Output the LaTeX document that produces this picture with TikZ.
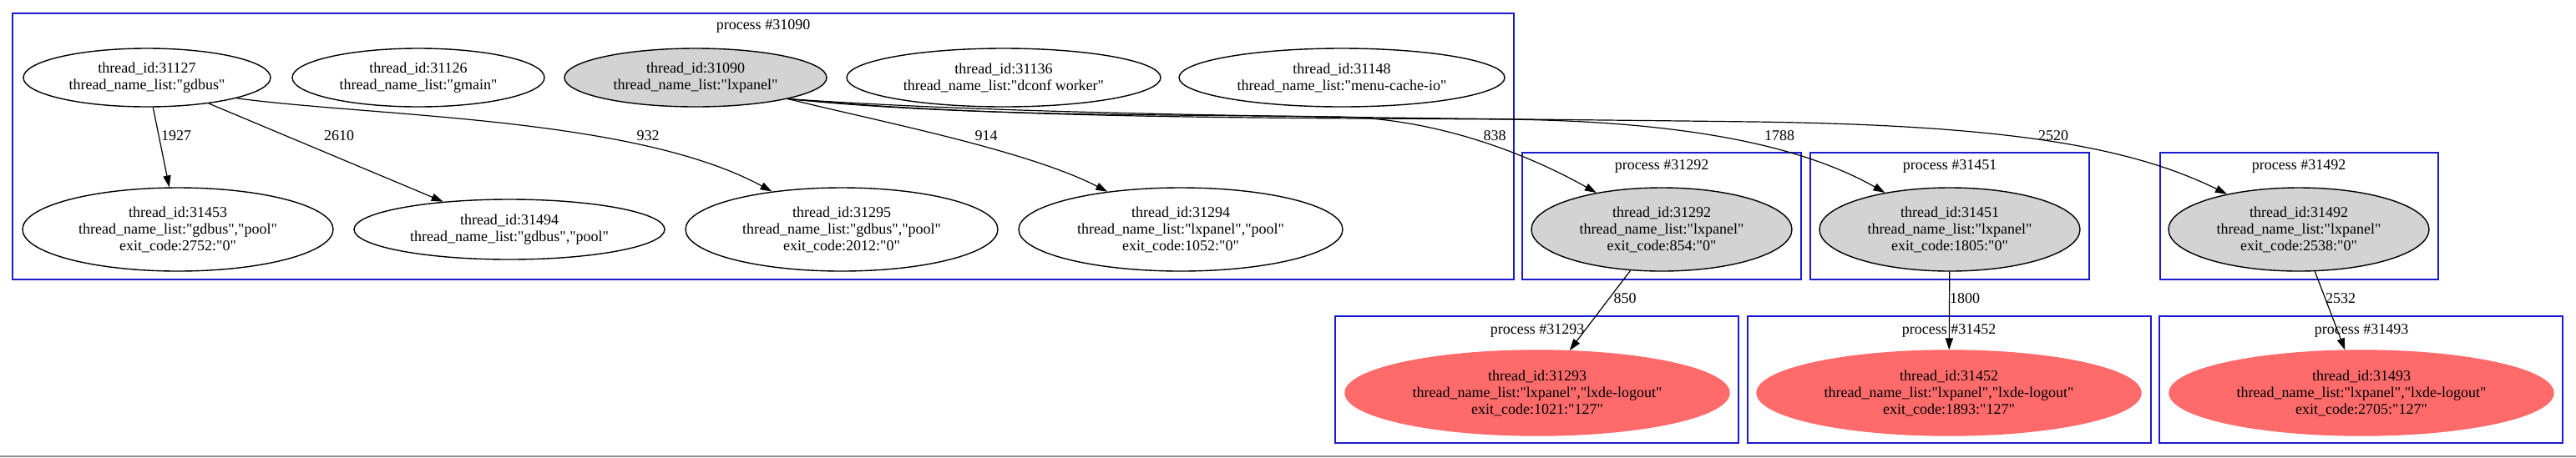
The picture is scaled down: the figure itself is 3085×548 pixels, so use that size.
\documentclass[tikz,border=0pt]{standalone}
\usepackage{fontspec}
\setmainfont{Liberation Serif}[Ligatures=TeXOff]
\usetikzlibrary{shapes.geometric,arrows.meta}
\definecolor{clusterblue}{HTML}{1A1AD0}
\definecolor{threadgray}{HTML}{D3D3D3}
\definecolor{exitred}{HTML}{FF6A6A}
\begin{document}
\begin{tikzpicture}[x=0.5pt,y=-0.5pt,
  thr/.style={ellipse,draw=black,line width=0.7pt,inner sep=0pt,align=center,font=\fontsize{9}{10}\selectfont},
  twoline/.style={minimum height=35pt},
  threeline/.style={minimum height=50pt},
  grayfill/.style={fill=threadgray},
  redfill/.style={fill=exitred,draw=exitred,minimum height=51pt,minimum width=230pt},
  cluster/.style={draw=clusterblue,line width=0.7pt},
  clabel/.style={font=\fontsize{9}{10}\selectfont,inner sep=0pt},
  elabel/.style={font=\fontsize{9}{10}\selectfont,inner sep=0pt},
  edge/.style={draw=black,line width=0.6pt,-{Triangle[length=7pt,width=4.6pt]}}]
\useasboundingbox (0,0) rectangle (3085,548);
% clusters
\draw[cluster] (15,16) rectangle (1813,335);
\node[clabel] (l31090) at (914,31) {process \#31090};
\draw[cluster] (1823,183) rectangle (2157,335);
\node[clabel] (l31292) at (1990,199) {process \#31292};
\draw[cluster] (2168,183) rectangle (2502,335);
\node[clabel] (l31451) at (2335,199) {process \#31451};
\draw[cluster] (2587,183) rectangle (2920,335);
\node[clabel] (l31492) at (2753,199) {process \#31492};
\draw[cluster] (1599,379) rectangle (2082,531);
\node[clabel] (l31293) at (1841,396) {process \#31293};
\draw[cluster] (2093,379) rectangle (2576,531);
\node[clabel] (l31452) at (2334,396) {process \#31452};
\draw[cluster] (2586,379) rectangle (3069,531);
\node[clabel] (l31493) at (2828,396) {process \#31493};
% row 1
\node[thr,twoline,minimum width=148pt] (n31127) at (176,93) {thread\_id:31127\\thread\_name\_list:"gdbus"};
\node[thr,twoline,minimum width=151pt] (n31126) at (501,93) {thread\_id:31126\\thread\_name\_list:"gmain"};
\node[thr,twoline,grayfill,minimum width=157pt] (n31090) at (833,93) {thread\_id:31090\\thread\_name\_list:"lxpanel"};
\node[thr,twoline,minimum width=188pt] (n31136) at (1202,93) {thread\_id:31136\\thread\_name\_list:"dconf worker"};
\node[thr,twoline,minimum width=195pt] (n31148) at (1607,93) {thread\_id:31148\\thread\_name\_list:"menu-cache-io"};
% row 2
\node[thr,threeline,minimum width=186pt] (n31453) at (213,275) {thread\_id:31453\\thread\_name\_list:"gdbus","pool"\\exit\_code:2752:"0"};
\node[thr,minimum height=36pt,minimum width=186pt] (n31494) at (610,275) {thread\_id:31494\\thread\_name\_list:"gdbus","pool"};
\node[thr,threeline,minimum width=187pt] (n31295) at (1008,275) {thread\_id:31295\\thread\_name\_list:"gdbus","pool"\\exit\_code:2012:"0"};
\node[thr,threeline,minimum width=194pt] (n31294) at (1414,275) {thread\_id:31294\\thread\_name\_list:"lxpanel","pool"\\exit\_code:1052:"0"};
\node[thr,threeline,grayfill,minimum width=156pt] (n31292) at (1990,275) {thread\_id:31292\\thread\_name\_list:"lxpanel"\\exit\_code:854:"0"};
\node[thr,threeline,grayfill,minimum width=156pt] (n31451) at (2335,275) {thread\_id:31451\\thread\_name\_list:"lxpanel"\\exit\_code:1805:"0"};
\node[thr,threeline,grayfill,minimum width=156pt] (n31492) at (2753,275) {thread\_id:31492\\thread\_name\_list:"lxpanel"\\exit\_code:2538:"0"};
% row 3
\node[thr,redfill] (n31293) at (1841,471) {thread\_id:31293\\thread\_name\_list:"lxpanel","lxde-logout"\\exit\_code:1021:"127"};
\node[thr,redfill] (n31452) at (2334,471) {thread\_id:31452\\thread\_name\_list:"lxpanel","lxde-logout"\\exit\_code:1893:"127"};
\node[thr,redfill] (n31493) at (2828,471) {thread\_id:31493\\thread\_name\_list:"lxpanel","lxde-logout"\\exit\_code:2705:"127"};
% edges
\draw[edge] (n31127) -- (n31453);
\draw[edge] (n31127) -- (n31494);
\draw[edge] (n31127.-13.5) .. controls (450,140) and (760,140) .. (n31295);
\draw[edge] (n31090.-13) .. controls (1050,145) and (1230,180) .. (n31294);
\draw[edge] (n31090.-13) .. controls (1150,140) and (1400,137) .. (1600,140) .. controls (1720,141) and (1830,185) .. (n31292);
\draw[edge] (n31090.-13) .. controls (1200,142) and (1500,141) .. (1800,143) .. controls (2000,145) and (2150,170) .. (n31451);
\draw[edge] (n31090.-13) .. controls (1250,140) and (1700,141) .. (2100,146) .. controls (2400,150) and (2550,175) .. (n31492);
\draw[edge] (n31292) -- (n31293);
\draw[edge] (n31451) -- (n31452);
\draw[edge] (n31492) -- (n31493);
% edge labels
\node[elabel] (e1927) at (211,163) {1927};
\node[elabel] (e2610) at (406,163) {2610};
\node[elabel] (e932) at (776,163) {932};
\node[elabel] (e914) at (1181,163) {914};
\node[elabel] (e838) at (1790,163) {838};
\node[elabel] (e1788) at (2131,163) {1788};
\node[elabel] (e2520) at (2459,163) {2520};
\node[elabel] (e850) at (1946,358) {850};
\node[elabel] (e1800) at (2353,358) {1800};
\node[elabel] (e2532) at (2803,358) {2532};
% bottom rule
\draw[black!45,line width=1pt] (0,547) -- (3085,547);
\end{tikzpicture}
\end{document}
